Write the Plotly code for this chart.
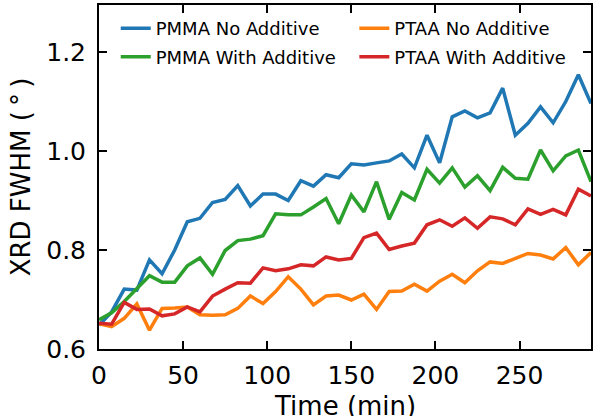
import plotly.graph_objects as go

# Sampling times (min)
time_min = [0, 7.5, 15, 22.5, 30, 37.5, 45, 52.5, 60, 67.5,
            75, 82.5, 90, 97.5, 105, 112.5, 120, 127.5, 135, 142.5,
            150, 157.5, 165, 172.5, 180, 187.5, 195, 202.5, 210, 217.5,
            225, 232.5, 240, 247.5, 255, 262.5, 270, 277.5, 285, 292.5]

# XRD FWHM (degrees) for each film
pmma_no_additive = [0.648, 0.675, 0.721, 0.719, 0.780, 0.752, 0.800, 0.857, 0.864, 0.896,
                    0.902, 0.930, 0.889, 0.913, 0.913, 0.900, 0.940, 0.929, 0.952, 0.946,
                    0.974, 0.972, 0.976, 0.980, 0.994, 0.966, 1.032, 0.976, 1.069, 1.081,
                    1.067, 1.077, 1.127, 1.032, 1.056, 1.089, 1.057, 1.100, 1.154, 1.096]

pmma_with_additive = [0.659, 0.673, 0.696, 0.723, 0.748, 0.735, 0.735, 0.768, 0.784, 0.751,
                      0.799, 0.819, 0.822, 0.829, 0.873, 0.871, 0.871, 0.887, 0.904, 0.853,
                      0.911, 0.877, 0.938, 0.862, 0.916, 0.901, 0.963, 0.935, 0.966, 0.927,
                      0.950, 0.920, 0.967, 0.945, 0.943, 1.002, 0.960, 0.990, 1.002, 0.938]

ptaa_no_additive = [0.651, 0.645, 0.662, 0.691, 0.638, 0.682, 0.683, 0.685, 0.669, 0.668,
                    0.669, 0.682, 0.707, 0.692, 0.716, 0.746, 0.721, 0.689, 0.707, 0.709,
                    0.699, 0.711, 0.680, 0.716, 0.717, 0.731, 0.717, 0.737, 0.751, 0.734,
                    0.758, 0.776, 0.773, 0.783, 0.793, 0.790, 0.782, 0.805, 0.770, 0.795]

ptaa_with_additive = [0.652, 0.650, 0.694, 0.680, 0.681, 0.667, 0.671, 0.685, 0.675, 0.707,
                      0.721, 0.734, 0.733, 0.764, 0.758, 0.762, 0.770, 0.768, 0.786, 0.780,
                      0.783, 0.825, 0.834, 0.801, 0.808, 0.814, 0.851, 0.861, 0.848, 0.865,
                      0.844, 0.867, 0.863, 0.851, 0.883, 0.872, 0.882, 0.871, 0.923, 0.909]

x_ticks = [0, 50, 100, 150, 200, 250]
y_ticks = [0.6, 0.8, 1.0, 1.2]

BLUE, ORANGE, GREEN, RED = "#1f77b4", "#ff7f0e", "#2ca02c", "#d62728"
FONT = "DejaVu Sans"

fig = go.Figure()
series = [
    ("PMMA No Additive", pmma_no_additive, BLUE, "legend"),
    ("PMMA With Additive", pmma_with_additive, GREEN, "legend"),
    ("PTAA No Additive", ptaa_no_additive, ORANGE, "legend2"),
    ("PTAA With Additive", ptaa_with_additive, RED, "legend2"),
]
for name, ys, color, leg in series:
    fig.add_trace(go.Scatter(
        x=time_min, y=ys, mode="lines", name=name,
        line=dict(color=color, width=3.5),
        legend=leg, legendgroup=name,
    ))

axis_common = dict(
    showline=True, linecolor="black", linewidth=2, mirror="allticks",
    ticks="inside", ticklen=8, tickwidth=1.5, tickcolor="black",
    showgrid=False, zeroline=False, automargin=False,
    tickfont=dict(family=FONT, size=25, color="black"),
)

legend_common = dict(
    yanchor="top", xanchor="left", y=0.985,
    bgcolor="rgba(0,0,0,0)", borderwidth=0,
    font=dict(family=FONT, size=18, color="black"),
    tracegroupgap=2,
)

fig.update_layout(
    width=593, height=416,
    margin=dict(l=99, r=2, t=5, b=67),
    paper_bgcolor="white", plot_bgcolor="white",
    xaxis=dict(range=[0, 292.5], tickvals=x_ticks, ticktext=[str(v) for v in x_ticks],
               ticklabelstandoff=3, **axis_common),
    yaxis=dict(range=[0.6, 1.295], tickvals=y_ticks, ticktext=[f"{v:.1f}" for v in y_ticks],
               title=dict(text="XRD FWHM (\u2009°\u2009)", font=dict(family=FONT, size=26, color="black"),
                          standoff=8),
               ticklabelstandoff=6, **axis_common),
    legend=dict(x=0.034, **legend_common),
    legend2=dict(x=0.519, **legend_common),
    showlegend=True,
    # x-axis title sits low, partly past the bottom edge
    annotations=[dict(
        text="Time (min)", xref="paper", yref="paper", x=0.5, y=-0.116,
        xanchor="center", yanchor="top", showarrow=False,
        font=dict(family=FONT, size=26, color="black"),
    )],
)

fig.write_html("out.html")
